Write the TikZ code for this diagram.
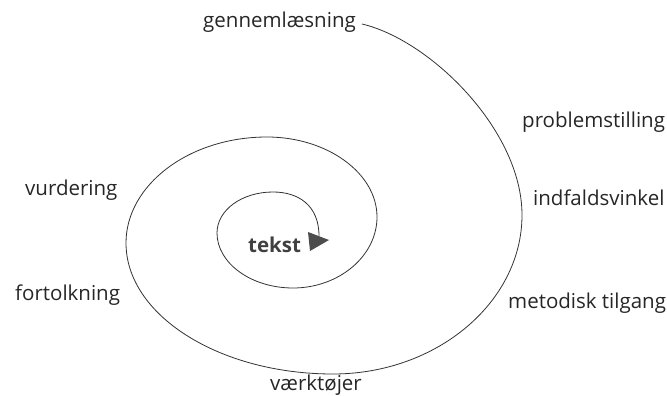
\documentclass[tikz,border=0pt]{standalone}
\usepackage{fontspec}
\setmainfont{Open Sans}
\begin{document}
\begin{tikzpicture}[x=1pt,y=-1pt,
		lbl/.style={anchor=base west,inner sep=0pt,text=black!85,font=\fontsize{20.5}{22}\selectfont},
		spiral/.style={black!80,line width=0.8pt}]
	\useasboundingbox (0,0) rectangle (667,396);
	\node[lbl] (gen) at (203,28) {gennemlæsning};
	\node[lbl] (prob) at (522,128) {problemstilling};
	\node[lbl] (indf) at (533,205) {indfaldsvinkel};
	\node[lbl] (meto) at (508,308) {metodisk tilgang};
	\node[lbl] (vaerk) at (270,390) {værktøjer};
	\node[lbl] (fort) at (15,300) {fortolkning};
	\node[lbl] (vurd) at (25,195) {vurdering};
	\node[lbl,font=\fontsize{20.5}{22}\selectfont\bfseries,text=black!75] (tekst) at (248,252) {tekst};
	\draw[spiral] (362,24) .. controls (430,40) and (522,130) .. (522,215)
		.. controls (522,302) and (437,374) .. (333,374)
		.. controls (219,374) and (126,315) .. (126,243)
		.. controls (126,185) and (189,137) .. (267,137)
		.. controls (327,137) and (377,173) .. (377,217)
		.. controls (377,256) and (339,288) .. (293,288)
		.. controls (251,288) and (217,263) .. (217,233)
		.. controls (217,210) and (242,192) .. (273,192)
		.. controls (298,192) and (319,205) .. (319,236);
	\fill[black!70] (308,232)--(329,240)--(310,251)--cycle;
\end{tikzpicture}
\end{document}
